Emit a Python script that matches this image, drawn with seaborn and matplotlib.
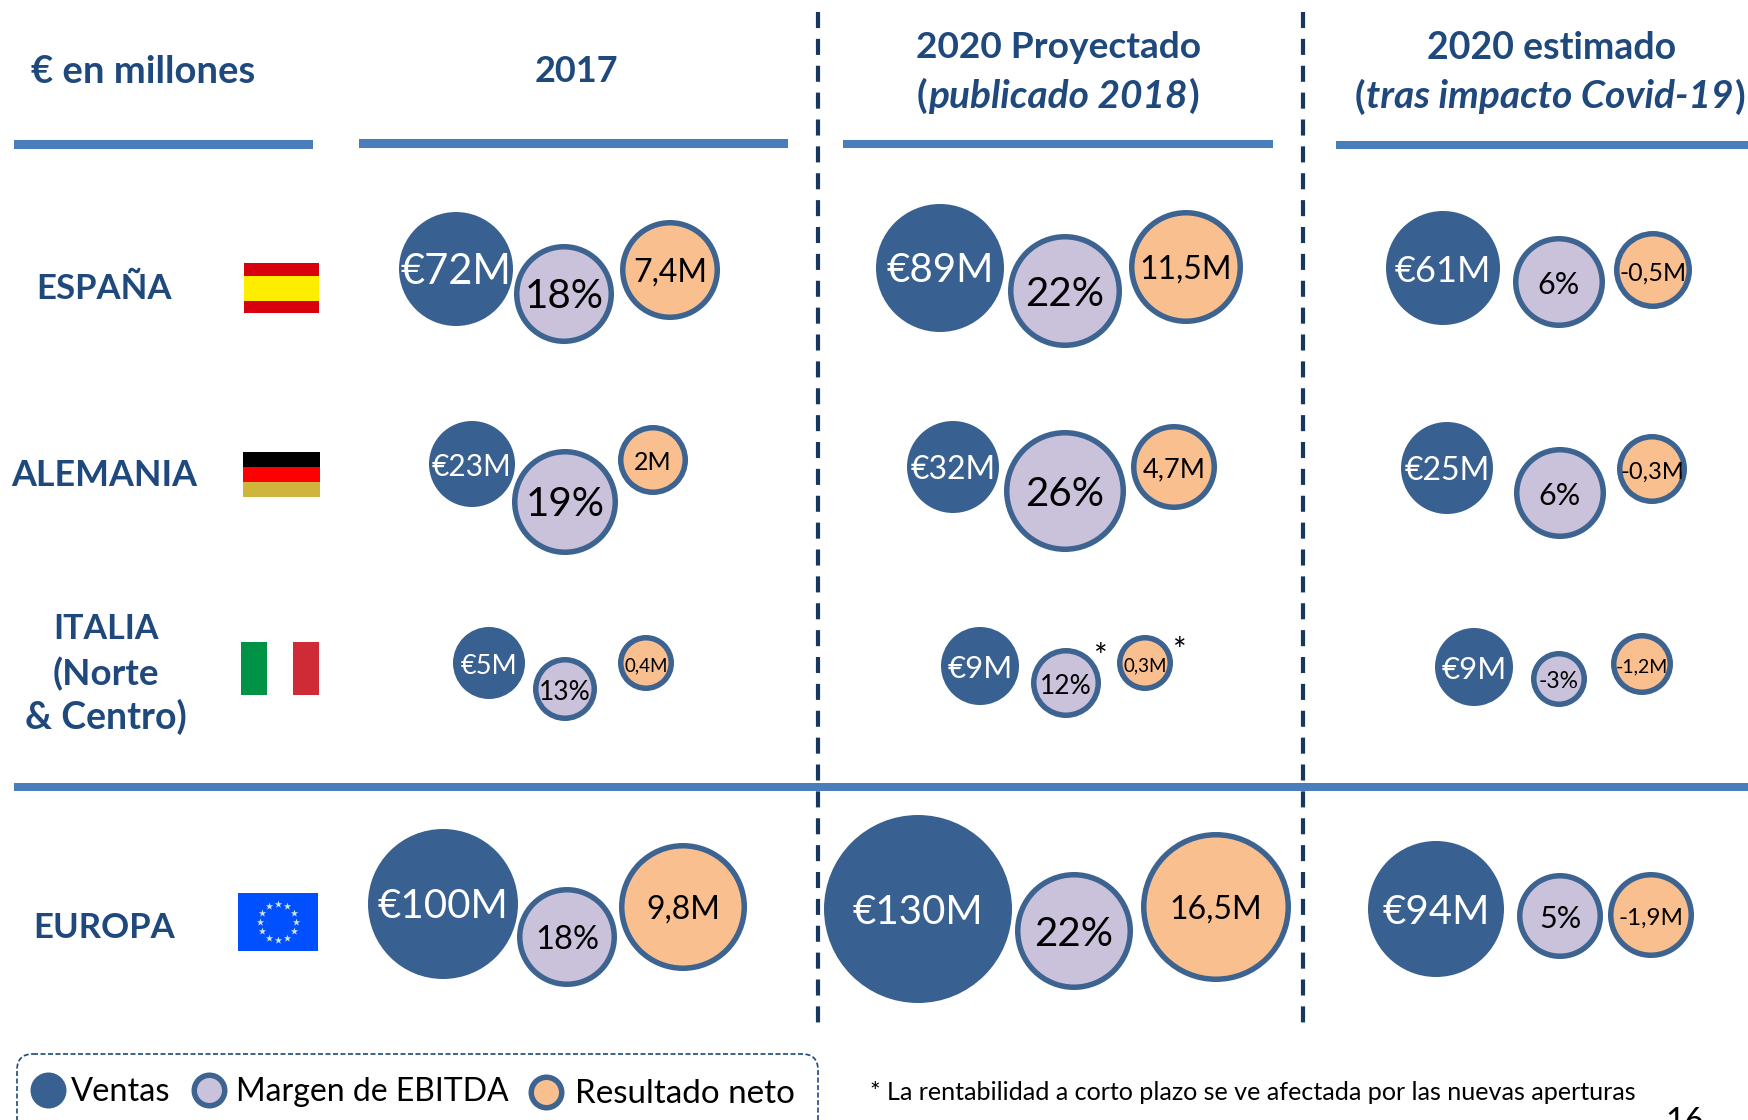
import numpy as np
import pandas as pd
import seaborn as sns
import matplotlib.pyplot as plt
from matplotlib.patches import FancyBboxPatch, Rectangle

# values, one list per period, rows = Espana, Alemania, Italia, Europa
countries = ["ESPAÑA", "ALEMANIA", "ITALIA\n(Norte\n& Centro)", "EUROPA"]
periods = ["2017", "2020 Proyectado", "2020 estimado"]
series = ["Ventas", "Margen de EBITDA", "Resultado neto"]

ventas_2017 = [72, 23, 5, 100]
ventas_2020p = [89, 32, 9, 130]
ventas_2020e = [61, 25, 9, 94]
margen_2017 = [18, 19, 13, 18]
margen_2020p = [22, 26, 12, 22]
margen_2020e = [6, 6, -3, 5]
neto_2017 = [7.4, 2, 0.4, 9.8]
neto_2020p = [11.5, 4.7, 0.3, 16.5]
neto_2020e = [-0.5, -0.3, -1.2, -1.9]

values = {
    "Ventas": [ventas_2017, ventas_2020p, ventas_2020e],
    "Margen de EBITDA": [margen_2017, margen_2020p, margen_2020e],
    "Resultado neto": [neto_2017, neto_2020p, neto_2020e],
}

# layout, measured in pixels of the slide: (x, y, radius, label size)
layout = {
    "Ventas": [
        [(456, 269, 57, 30), (472, 464, 43, 21.5), (489, 663, 36, 19.5), (443, 904, 75, 29)],
        [(940, 268, 64, 29), (953, 467, 46, 23), (980, 666, 39, 22.5), (918, 909, 94, 29)],
        [(1443, 268, 57, 26), (1447, 468, 46, 23), (1474, 667, 39, 22.5), (1436, 909, 68, 29)],
    ],
    "Margen de EBITDA": [
        [(564, 294, 50, 29), (565, 502, 53, 29), (565, 689, 32, 19), (567, 937, 50, 23.5)],
        [(1065, 291, 57, 29), (1065, 491, 61, 29), (1066, 683, 35, 19), (1074, 931, 59, 29)],
        [(1559, 282, 46, 22), (1560, 493, 46, 22), (1559, 679, 28, 16.5), (1560, 916, 43, 22)],
    ],
    "Resultado neto": [
        [(670, 270, 50, 23), (653, 460, 35, 18), (646, 663, 28, 13.5), (683, 907, 64, 23)],
        [(1186, 267, 57, 23), (1174, 467, 43, 19.5), (1145, 663, 28, 13.5), (1216, 907, 75, 23)],
        [(1653, 270, 39, 18), (1652, 469, 35, 17), (1642, 664, 31, 14), (1651, 915, 43, 17.5)],
    ],
}

fills = {"Ventas": "#386091", "Margen de EBITDA": "#CAC1DB", "Resultado neto": "#F9BF8F"}
EDGE = "#3D6391"
NAVY = "#1F497D"
RULE = "#4A7EBB"
DASH = "#17375E"
RING = 5.5  # px


def fmt(serie, v):
    if serie == "Ventas":
        return f"€{v}M"
    if serie == "Margen de EBITDA":
        return f"{v}%"
    return f"{v}M".replace(".", ",")


rows = []
for serie in series:
    for p, col in enumerate(values[serie]):
        for r, v in enumerate(col):
            x, y, rad, fs = layout[serie][p][r]
            rows.append(dict(serie=serie, period=periods[p], country=countries[r], label=fmt(serie, v),
                             x=x, y=y, rad=rad, fs=fs))
df = pd.DataFrame(rows)

sns.set_theme(style="white")
plt.rcParams["font.family"] = ["Lato", "DejaVu Sans"]

fig = plt.figure(figsize=(17.49, 11.20), dpi=100)
ax = fig.add_axes([0, 0, 1, 1])
ax.set_xlim(0, 1749)
ax.set_ylim(1120, 0)
ax.axis("off")

# rules
for x0, x1, y, h in [(14, 313, 144.5, 8.5), (359, 788, 143.5, 8.5), (843, 1273, 144, 8),
                     (1336, 1749, 145, 8), (14, 1749, 787, 8)]:
    ax.add_patch(Rectangle((x0, y - h / 2), x1 - x0, h, color=RULE, lw=0, zorder=1))
for x in [818.5, 1303]:
    ax.plot([x, x], [12, 1023], color=DASH, lw=3, ls=(0, (3.85, 2.6)), zorder=2)

# bubbles
for serie in series:
    sub = df[df.serie == serie]
    ring = 0 if serie == "Ventas" else RING
    sizes = ((2 * sub.rad - ring) * 0.72) ** 2
    sns.scatterplot(data=sub, x="x", y="y", s=sizes, color=fills[serie], edgecolor=EDGE,
                    linewidth=ring * 0.72, legend=False, ax=ax, zorder=3)
    for row in sub.itertuples():
        ax.text(row.x, row.y + 3, row.label, fontsize=row.fs, ha="center", va="center",
                color="white" if serie == "Ventas" else "black", zorder=4)
ax.set_xlabel("")
ax.set_ylabel("")

# headers
bold = dict(color=NAVY, fontweight="bold", ha="center", va="center")
ax.text(143, 72, "€ en millones", fontsize=27.5, **bold)
ax.text(576, 72, periods[0], fontsize=26, **bold)
ax.text(1059, 48, periods[1], fontsize=26.7, **bold)
ax.text(1552, 48, periods[2], fontsize=27, **bold)


def sub_header(xc, y, txt):
    t = ax.text(xc, y, txt, style="italic", fontsize=28, **bold)
    box = t.get_window_extent(fig.canvas.get_renderer())
    ax.text(box.x0 - 1, y, "(", ha="right", va="center", color=NAVY, fontweight="bold", fontsize=28)
    ax.text(box.x1 + 1, y, ")", ha="left", va="center", color=NAVY, fontweight="bold", fontsize=28)


sub_header(1058, 96, "publicado 2018")
sub_header(1550, 97, "tras impacto Covid-19")

# row names
ax.text(104, 289, countries[0], fontsize=25, **bold)
ax.text(104, 476, countries[1], fontsize=25.8, **bold)
for line, y, fs in zip(countries[2].split("\n"), [629, 674, 717], [24.5, 26.5, 27]):
    ax.text(106, y, line, fontsize=fs, **bold)
ax.text(104, 928, countries[3], fontsize=25, **bold)


def stripes(x0, x1, y0, y1, cols, horizontal=True):
    n = len(cols)
    for i, c in enumerate(cols):
        if horizontal:
            ax.add_patch(Rectangle((x0, y0 + (y1 - y0) * i / n), x1 - x0, (y1 - y0) / n, color=c, lw=0))
        else:
            ax.add_patch(Rectangle((x0 + (x1 - x0) * i / n, y0), (x1 - x0) / n, y1 - y0, color=c, lw=0))


# flags
ax.add_patch(Rectangle((244, 263), 75, 50, color="#D8000D", lw=0))
ax.add_patch(Rectangle((244, 276), 75, 25, color="#FFED00", lw=0))
stripes(243, 320, 452, 497, ["#000000", "#FF0000", "#CFB53B"])
stripes(241, 319, 642, 695, ["#009246", "#FFFFFF", "#CE2B37"], horizontal=False)
ax.add_patch(Rectangle((238, 893), 80, 58, color="#0050FF", lw=0))
ang = np.arange(12) * np.pi / 6
ax.scatter(278 + 18 * np.cos(ang), 922 + 18 * np.sin(ang), marker="*", s=32, color="#CFE3D6", lw=0, zorder=3)

# asterisks
ax.text(1101, 658, "*", fontsize=23, ha="center", va="center", color="black")
ax.text(1180, 652, "*", fontsize=23, ha="center", va="center", color="black")

# legend box
ax.add_patch(FancyBboxPatch((27, 1064), 781, 90, boxstyle="round,pad=10,rounding_size=16", fill=False,
                            ec=NAVY, lw=1.2, ls=(0, (3, 1.5)), zorder=2))
leg_x = [48.5, 209, 546]
leg_y = [1090, 1090, 1092]
leg_tx = [71, 236, 575]
leg_fs = [23.5, 23, 23.9]
for i, serie in enumerate(series):
    ring = 0 if i == 0 else RING
    ax.scatter([leg_x[i]], [leg_y[i]], s=((36 - ring) * 0.72) ** 2, color=fills[serie], edgecolor=EDGE,
               linewidth=ring * 0.72, zorder=3)
    ax.text(leg_tx[i], leg_y[i] + 2, serie, fontsize=leg_fs[i], ha="left", va="center", color="black")

ax.text(870, 1092, "* La rentabilidad a corto plazo se ve afectada por las nuevas aperturas",
        fontsize=18.05, ha="left", va="center", color="black")
ax.text(1685, 1107, "16", fontsize=24, ha="center", va="top", color="black")

fig.savefig("out.png", dpi=100)
